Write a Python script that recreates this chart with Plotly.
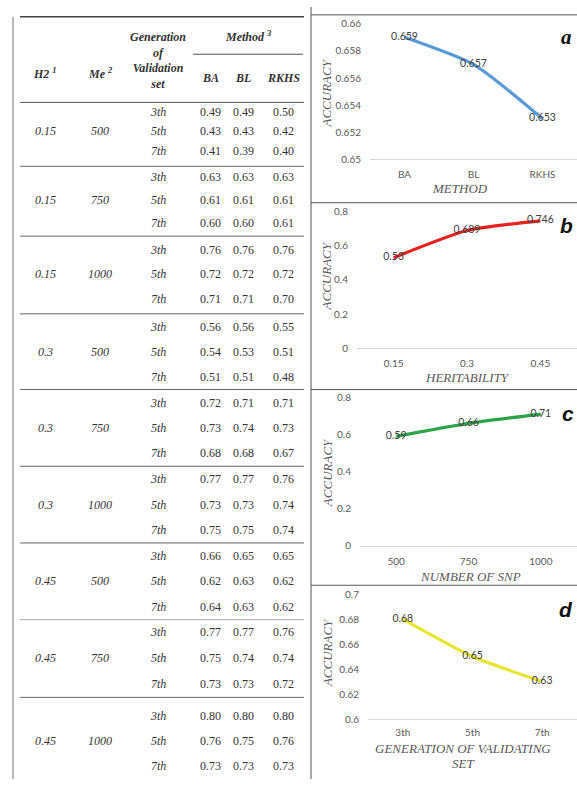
import plotly.graph_objects as go

# ---------------- data ----------------
h2_levels = ["0.15", "0.15", "0.15", "0.3", "0.3", "0.3", "0.45", "0.45", "0.45"]
me_levels = ["500", "750", "1000", "500", "750", "1000", "500", "750", "1000"]
generations = ["3th", "5th", "7th"]
acc_ba = [0.49, 0.43, 0.41, 0.63, 0.61, 0.60, 0.76, 0.72, 0.71,
          0.56, 0.54, 0.51, 0.72, 0.73, 0.68, 0.77, 0.73, 0.75,
          0.66, 0.62, 0.64, 0.77, 0.75, 0.73, 0.80, 0.76, 0.73]
acc_bl = [0.49, 0.43, 0.39, 0.63, 0.61, 0.60, 0.76, 0.72, 0.71,
          0.56, 0.53, 0.51, 0.71, 0.74, 0.68, 0.77, 0.73, 0.75,
          0.65, 0.63, 0.63, 0.77, 0.74, 0.73, 0.80, 0.75, 0.73]
acc_rkhs = [0.50, 0.42, 0.40, 0.63, 0.61, 0.61, 0.76, 0.72, 0.70,
            0.55, 0.51, 0.48, 0.71, 0.73, 0.67, 0.76, 0.74, 0.74,
            0.65, 0.62, 0.62, 0.76, 0.74, 0.72, 0.80, 0.76, 0.73]

methods = ["BA", "BL", "RKHS"]
method_acc = [0.659, 0.657, 0.653]
heritability = ["0.15", "0.3", "0.45"]
heritability_acc = [0.53, 0.689, 0.746]
snp_numbers = ["500", "750", "1000"]
snp_acc = [0.59, 0.66, 0.71]
gen_labels = ["3th", "5th", "7th"]
gen_acc = [0.68, 0.65, 0.63]

# ---------------- layout helpers ----------------
W, H = 577, 785


def X(px):
    return px / W


def Y(py):
    return 1 - py / H


SERIF = "Liberation Serif"
SANS = "Lato"
GREY = "#595959"

fig = go.Figure()
annotations = []
shapes = []


def hline(x0, x1, y, color="#666666", width=1):
    shapes.append(dict(type="line", xref="paper", yref="paper",
                       x0=X(x0), x1=X(x1), y0=Y(y), y1=Y(y),
                       line=dict(color=color, width=width)))


def vline(x, y0, y1, color="#666666", width=1):
    shapes.append(dict(type="line", xref="paper", yref="paper",
                       x0=X(x), x1=X(x), y0=Y(y0), y1=Y(y1),
                       line=dict(color=color, width=width)))


def text(s, x, y, size=12, color="#333333", family=SERIF, angle=0):
    annotations.append(dict(text=s, x=X(x), y=Y(y), xref="paper", yref="paper",
                            showarrow=False, xanchor="center", yanchor="middle",
                            textangle=angle,
                            font=dict(family=family, size=size, color=color)))


# ---------------- table ----------------
vline(13, 10, 785, color="#777777")
hline(20, 304, 10, color="#444444", width=1.5)
hline(193, 303, 48, color="#555555")
hline(20, 304, 97, color="#555555")

text("<b><i>H2 <sup>1</sup></i></b>", 45, 68)
text("<b><i>Me <sup>2</sup></i></b>", 100, 68)
text("<b><i>Generation<br>of<br>Validation<br>set</i></b>", 158, 54, size=12)
text("<b><i>Method <sup>3</sup></i></b>", 248, 30)
col_x = [210, 243, 283]
for m, cx in zip(methods, col_x):
    text(f"<b><i>{m}</i></b>", cx, 72)

group_tops = [97, 162, 233, 312, 389, 467, 545, 623, 702]
first_row_offsets = [10, 11, 14, 13, 14, 13, 13, 13, 19]
row_step = [19.5, 23.5, 25, 25.5, 25.5, 26, 26, 26, 25.5]

for g in range(9):
    if g > 0:
        hline(20, 304, group_tops[g],
              color="#aaaaaa" if g == 7 else "#666666")
    ys = [group_tops[g] + first_row_offsets[g] + k * row_step[g] for k in range(3)]
    text(f"<i>{h2_levels[g]}</i>", 45, ys[1])
    text(f"<i>{me_levels[g]}</i>", 100, ys[1])
    for k in range(3):
        i = g * 3 + k
        text(f"<i>{generations[k]}</i>", 158, ys[k])
        for vals, cx in zip([acc_ba, acc_bl, acc_rkhs], col_x):
            text(f"{vals[i]:.2f}", cx, ys[k])

# ---------------- chart panels ----------------
vline(311, 0, 785, color="#555555")
for y in [8, 199, 389, 588]:
    hline(311, 577, y, color="#555555")

panels = [
    dict(x=methods, y=method_acc, color="#5b9bd5", dom_x=(370, 577), dom_y=(17, 155),
         rng=[0.65, 0.66], dtick=0.002, ytitle_pos=(327, 88),
         xtitle=[("METHOD", 460, 185)],
         letter="a", letter_pos=(566, 31), letter_font=SERIF),
    dict(x=heritability, y=heritability_acc, color="#e42320", dom_x=(357, 577), dom_y=(208, 347),
         rng=[0, 0.8], dtick=0.2, ytitle_pos=(326, 274),
         xtitle=[("HERITABILITY", 467, 377)],
         letter="b", letter_pos=(566, 222), letter_font="Liberation Sans"),
    dict(x=snp_numbers, y=snp_acc, color="#2ea448", dom_x=(360, 577), dom_y=(397, 548),
         rng=[0, 0.8], dtick=0.2, ytitle_pos=(327, 474),
         xtitle=[("NUMBER OF SNP", 470, 579)],
         letter="c", letter_pos=(568, 413), letter_font="Liberation Sans"),
    dict(x=gen_labels, y=gen_acc, color="#e6e632", dom_x=(368, 577), dom_y=(597, 724),
         rng=[0.6, 0.7], dtick=0.02, ytitle_pos=(327, 657),
         xtitle=[("GENERATION OF VALIDATING", 463, 754), ("SET", 463, 769)],
         letter="d", letter_pos=(566, 613), letter_font="Liberation Sans"),
]

for n, p in enumerate(panels, start=1):
    xa = "x" if n == 1 else f"x{n}"
    ya = "y" if n == 1 else f"y{n}"
    fig.add_trace(go.Scatter(
        x=p["x"], y=p["y"], xaxis=xa, yaxis=ya, mode="lines+text",
        line=dict(color=p["color"], width=3.2, shape="spline", smoothing=0.6),
        text=[str(v) for v in p["y"]], textposition="middle center",
        textfont=dict(family=SANS, size=10.5, color="#404040"),
        showlegend=False, hoverinfo="skip"))
    suffix = "" if n == 1 else str(n)
    fig.layout["xaxis" + suffix] = dict(
        domain=[X(p["dom_x"][0]), X(p["dom_x"][1])], anchor=ya,
        type="category", range=[-0.5, 2.5], showgrid=False, zeroline=False,
        showline=True, linecolor="#d9d9d9", linewidth=1, ticks="",
        ticklabelstandoff=4 if n == 4 else 6,
        tickfont=dict(family=SANS, size=10, color=GREY), fixedrange=True)
    fig.layout["yaxis" + suffix] = dict(
        domain=[Y(p["dom_y"][1]), Y(p["dom_y"][0])], anchor=xa,
        range=p["rng"], dtick=p["dtick"], tick0=p["rng"][0], showgrid=False,
        zeroline=False, showline=False, ticks="", ticklabelstandoff=8,
        tickformat="~g",
        tickfont=dict(family=SANS, size=10, color=GREY), fixedrange=True)
    text("<i>ACCURACY</i>", *p["ytitle_pos"], size=13, color=GREY, angle=-90)
    for label, tx, ty in p["xtitle"]:
        text(f"<i>{label}</i>", tx, ty, size=13, color=GREY)
    text(f"<b><i>{p['letter']}</i></b>", *p["letter_pos"], size=21,
         color="#111111", family=p["letter_font"])

fig.update_layout(
    width=W, height=H, margin=dict(l=0, r=0, t=0, b=0),
    paper_bgcolor="white", plot_bgcolor="white",
    annotations=annotations, shapes=shapes,
)

fig.write_html("out.html")
